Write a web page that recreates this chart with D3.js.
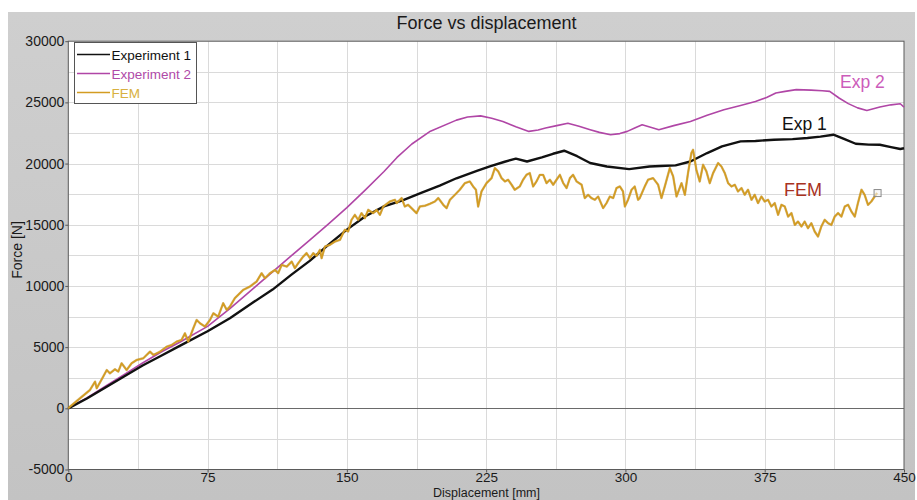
<!DOCTYPE html>
<html>
<head>
<meta charset="utf-8">
<script src="https://cdn.jsdelivr.net/npm/d3@7"></script>
<style>
  html, body { margin: 0; padding: 0; background: #ffffff; }
  svg { display: block; font-family: "Liberation Sans", Arial, sans-serif; }
</style>
</head>
<body>
<svg id="chart" width="917" height="500"></svg>
<script>
const chartTitle = "Force vs displacement";
const xLabel = "Displacement [mm]";
const yLabel = "Force [N]";
const seriesNames = ["Experiment 1", "Experiment 2", "FEM"];
const annotations = ["Exp 1", "Exp 2", "FEM"];
const xTicks = [0, 75, 150, 225, 300, 375, 450];
const yTicks = [-5000, 0, 5000, 10000, 15000, 20000, 25000, 30000];

// Experiment 1: [displacement mm, force N]
const exp1 = [
  [0,0],[10,800],[20,1700],[30,2600],[40,3500],[50,4300],[60,5100],[75,6300],[87,7360],
  [100,8700],[110,9700],[120,10900],[130,12050],[140,13350],[150,14600],[160,15700],
  [170,16500],[180,17000],[190,17600],[200,18200],[209,18800],[220,19400],[227,19770],
  [235,20150],[241,20400],[247,20170],[255,20500],[261,20800],[267,21050],[274,20600],
  [281,20050],[290,19760],[302,19550],[313,19760],[319,19800],[327,19850],[335,20170],
  [344,20860],[352,21400],[362,21810],[370,21850],[380,21950],[390,22000],[398,22090],
  [405,22200],[412,22360],[418,22000],[424,21620],[431,21550],[437,21540],[443,21350],
  [448,21190],[450,21250]
];

// Experiment 2
const exp2 = [
  [0,0],[10,850],[20,1800],[30,2750],[40,3700],[50,4600],[60,5400],[75,6700],[87,8150],
  [100,9850],[110,11150],[120,12450],[130,13750],[140,15050],[150,16400],[160,17850],
  [170,19350],[177,20500],[185,21600],[195,22650],[209,23550],[215,23800],[222,23900],
  [228,23700],[234,23440],[241,23000],[248,22630],[253,22750],[257,22900],[263,23100],
  [269,23300],[275,23050],[281,22770],[286,22550],[292,22360],[297,22450],[301,22630],
  [305,22900],[309,23170],[314,22950],[318,22770],[326,23100],[335,23440],[344,23950],
  [353,24400],[362,24750],[370,25080],[376,25400],[381,25770],[386,25900],[392,26040],
  [400,26000],[406,25950],[410,25900],[415,25360],[420,24900],[425,24550],[430,24340],
  [437,24620],[443,24800],[448,24890],[450,24620]
];

// FEM
const fem = [
  [0,0],[0.9,130],[6.3,820],[11.7,1500],[14.4,2180],[15.3,1640],[18.8,2590],[20.7,3130],
  [22.4,2860],[25.1,3190],[26.9,3000],[28.7,3680],[31.4,3130],[34.1,3680],[36.8,3950],
  [40.4,4090],[44,4630],[45.8,4360],[49.4,4630],[53,5040],[55.7,5180],[58.3,5450],
  [61,5590],[62.8,6130],[64.6,5450],[67.3,6540],[69.1,7220],[70.9,6950],[73.6,6680],
  [76.3,7220],[78.1,7770],[80.7,7490],[83.4,8590],[85.3,8040],[87,8310],[89.7,9000],
  [94.2,9680],[97.8,9950],[101.4,10360],[104.1,11040],[105.9,10630],[108.6,11040],
  [111.3,11310],[113,11040],[114.9,11720],[117.6,11580],[120.3,11990],[122,11450],
  [123.8,11860],[126.5,12400],[128.3,12680],[130.1,12270],[131.9,12680],[133.7,12460],
  [135.5,12950],[136.4,12270],[138.2,13220],[140.9,13360],[143.6,13630],[146.3,13770],
  [148,14320],[148.9,14590],[150.7,14450],[152.5,15400],[154.3,15810],[156.1,15400],
  [157.9,15950],[159.7,15540],[161.5,16220],[164.2,15950],[166,16220],[167.8,15810],
  [169.6,16490],[173.2,16900],[175.9,17040],[176.8,16770],[179.5,17180],[181.2,16490],
  [183,16630],[184.8,16360],[187.5,15950],[189.3,16490],[192,16550],[194.7,16710],
  [197.4,16900],[199.2,17180],[201.9,16630],[203.7,16360],[205.5,17040],[208.2,17450],
  [210.8,17860],[213.5,18400],[216.2,18540],[218,18130],[219.5,17860],[220.7,16490],
  [222.5,17720],[225.2,18400],[227.9,18810],[229.7,19630],[231.5,19360],[233.3,18810],
  [235.1,18540],[236.8,18680],[238.7,18270],[240.4,17860],[243.1,18130],[244.9,18680],
  [246.7,19080],[248.5,19220],[250.3,18130],[252.1,18540],[253.9,19080],[255.7,19080],
  [257.5,18400],[259.3,18680],[261.1,18270],[262.9,18680],[264.7,19080],[266.5,18400],
  [268.3,18000],[270.1,18810],[271.8,19080],[273.7,18540],[276.4,18270],[278.1,17180],
  [279.9,17450],[281.7,17180],[283.5,17040],[285.3,17310],[288,16360],[289.8,16770],
  [291.6,17310],[293.4,17180],[295.2,18000],[297,18130],[298.7,17720],[299.7,16490],
  [301.4,17040],[303.3,17860],[305,18130],[306.8,17040],[307.7,17180],[310.4,18130],
  [312.2,18680],[314.9,18810],[317.6,18270],[319.4,17180],[321.2,18130],[323.9,19630],
  [325.7,18950],[327.5,17310],[330.2,18400],[332,17450],[333.7,19220],[335.5,20860],
  [336.4,21130],[338.2,19490],[340,18540],[341.8,19900],[343.6,19360],[345.4,18400],
  [347.2,19220],[349.9,20040],[351.7,19760],[353.5,19220],[355.3,18400],[357.1,18130],
  [358.9,18270],[360.6,17720],[362.5,18000],[364.2,17450],[366,17860],[367.9,17040],
  [369.6,17450],[371.4,16770],[373.2,17310],[375,16900],[376.8,17040],[378.6,16490],
  [380.4,16770],[382.2,15810],[384,16630],[385.8,16490],[387.6,15670],[389.4,15950],
  [391.2,14990],[392.9,15260],[394.8,14860],[396.5,15260],[398.3,14720],[400.1,15130],
  [401.9,14450],[403.7,14040],[405.5,14860],[407.3,15400],[409.1,15130],[410.9,14990],
  [412.7,15670],[414.5,15950],[416.3,15670],[418.1,16490],[419.9,16630],[421.7,16080],
  [423.5,15670],[425.2,16770],[427.1,17860],[428.8,17450],[430.6,16630],[432.4,16900],
  [434.2,17310],[435.5,17590]
];

const colors = { exp1: "#111111", exp2: "#b046a6", fem: "#d39c22" };
const FONT = "'Liberation Sans', Arial, sans-serif";

const svg = d3.select("#chart");

// panel background
const defs = svg.append("defs");
const grad = defs.append("linearGradient").attr("id", "bg").attr("x1", 0).attr("y1", 0).attr("x2", 0).attr("y2", 1);
grad.append("stop").attr("offset", "0%").attr("stop-color", "#cfcfcf");
grad.append("stop").attr("offset", "100%").attr("stop-color", "#c3c3c3");
svg.append("rect").attr("x", 8).attr("y", 12).attr("width", 907).attr("height", 488).attr("fill", "url(#bg)");

const x = d3.scaleLinear().domain([0, 450]).range([68.3, 904]);
const y = d3.scaleLinear().domain([-5000, 30000]).range([469.5, 41.2]);

// plot area
svg.append("rect").attr("x", x(0)).attr("y", y(30000))
  .attr("width", x(450) - x(0)).attr("height", y(-5000) - y(30000)).attr("fill", "#ffffff");

// grid
const grid = svg.append("g").attr("stroke", "#dadada").attr("stroke-width", 1);
d3.range(37.5, 450, 37.5).forEach(v => {
  grid.append("line").attr("x1", Math.round(x(v)) + 0.5).attr("x2", Math.round(x(v)) + 0.5)
    .attr("y1", y(30000)).attr("y2", y(-5000));
});
d3.range(-2500, 30000, 2500).forEach(v => {
  grid.append("line").attr("y1", Math.round(y(v)) + 0.5).attr("y2", Math.round(y(v)) + 0.5)
    .attr("x1", x(0)).attr("x2", x(450));
});
// zero line
svg.append("line").attr("x1", x(0)).attr("x2", x(450))
  .attr("y1", Math.round(y(0)) + 0.5).attr("y2", Math.round(y(0)) + 0.5)
  .attr("stroke", "#6a6a6a").attr("stroke-width", 1);

// axes
const fmt = d => String(d);
const yAxis = svg.append("g").attr("transform", `translate(${x(0)},0)`)
  .call(d3.axisLeft(y).tickValues(yTicks).tickSize(3).tickPadding(1).tickFormat(fmt));
const xAxis = svg.append("g").attr("transform", `translate(0,${y(-5000)})`)
  .call(d3.axisBottom(x).tickValues(xTicks).tickSize(3).tickPadding(0).tickFormat(fmt));
[yAxis, xAxis].forEach(a => {
  a.select(".domain").remove();
  a.selectAll("line").attr("stroke", "#555");
  a.selectAll("text").attr("fill", "#1a1a1a").style("font-size", "14px").style("font-family", FONT);
});
xAxis.selectAll("text").style("font-size", "13.5px");

// plot border
svg.append("rect").attr("x", x(0)).attr("y", y(30000))
  .attr("width", x(450) - x(0)).attr("height", y(-5000) - y(30000))
  .attr("fill", "none").attr("stroke", "#5a5a5a").attr("stroke-width", 1);

// lines
const line = d3.line().x(d => x(d[0])).y(d => y(d[1]));
const plot = svg.append("g");
plot.append("path").datum(exp2).attr("d", line).attr("fill", "none")
  .attr("stroke", colors.exp2).attr("stroke-width", 1.6).attr("stroke-linejoin", "round");
plot.append("path").datum(exp1).attr("d", line).attr("fill", "none")
  .attr("stroke", colors.exp1).attr("stroke-width", 2.4).attr("stroke-linejoin", "round");
plot.append("path").datum(fem).attr("d", line).attr("fill", "none")
  .attr("stroke", "#b98a28").attr("stroke-width", 2.4).attr("stroke-linejoin", "round").attr("opacity", 0.55);
plot.append("path").datum(fem).attr("d", line).attr("fill", "none")
  .attr("stroke", colors.fem).attr("stroke-width", 1.6).attr("stroke-linejoin", "round");

// end marker on FEM
const last = fem[fem.length - 1];
svg.append("rect").attr("x", x(last[0]) - 3).attr("y", y(last[1]) - 3.5)
  .attr("width", 7).attr("height", 7).attr("fill", "#f4f4f4").attr("fill-opacity", 0.6)
  .attr("stroke", "#8a8a8a").attr("stroke-width", 1);

// annotations
svg.append("text").attr("x", 840).attr("y", 88).attr("fill", "#cc5cba")
  .style("font-size", "17.5px").style("font-family", FONT).text(annotations[1]);
svg.append("text").attr("x", 782).attr("y", 130).attr("fill", "#111")
  .style("font-size", "17.5px").style("font-family", FONT).text(annotations[0]);
svg.append("text").attr("x", 784).attr("y", 195.5).attr("fill", "#a8321f")
  .style("font-size", "18px").style("font-family", FONT).text(annotations[2]);

// legend
const lg = svg.append("g");
lg.append("rect").attr("x", 74.5).attr("y", 42.5).attr("width", 122).attr("height", 61)
  .attr("fill", "#ffffff").attr("stroke", "#555").attr("stroke-width", 1);
const legendColors = [colors.exp1, colors.exp2, colors.fem];
const legendText = ["#111111", "#b04aa8", "#d8b040"];
seriesNames.forEach((n, i) => {
  const yy = 54.5 + i * 19;
  lg.append("line").attr("x1", 77).attr("x2", 110).attr("y1", yy).attr("y2", yy)
    .attr("stroke", legendColors[i]).attr("stroke-width", 1.5);
  lg.append("text").attr("x", 111.5).attr("y", yy + 5).attr("fill", legendText[i])
    .style("font-size", "13.5px").style("font-family", FONT).text(n);
});

// title and axis labels
svg.append("text").attr("x", 486.5).attr("y", 28.5).attr("text-anchor", "middle")
  .attr("fill", "#1a1a1a").style("font-size", "18px").style("font-family", FONT).text(chartTitle);
svg.append("text").attr("x", 486.5).attr("y", 497.3).attr("text-anchor", "middle")
  .attr("fill", "#1a1a1a").style("font-size", "12.5px").style("font-family", FONT).text(xLabel);
svg.append("text").attr("transform", "translate(22,250) rotate(-90)").attr("text-anchor", "middle")
  .attr("fill", "#1a1a1a").style("font-size", "14px").style("font-family", FONT).text(yLabel);
</script>
</body>
</html>
